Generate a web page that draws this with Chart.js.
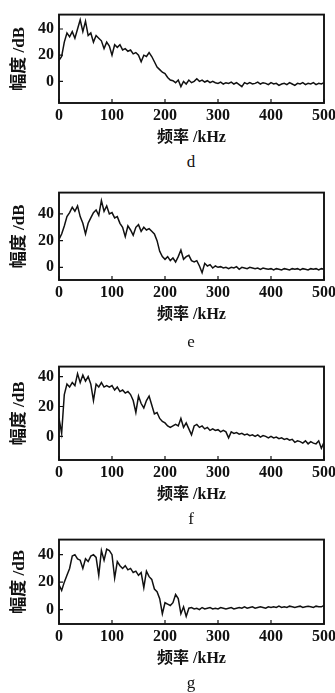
<!DOCTYPE html>
<html>
<head>
<meta charset="utf-8">
<script src="https://cdn.jsdelivr.net/npm/chart.js@4.4.0/dist/chart.umd.min.js"></script>
<style>
  html, body { margin: 0; padding: 0; background: #fff; }
  body { width: 335px; height: 693px; position: relative; overflow: hidden; }
  canvas { position: absolute; left: 0; }
  .cap { position: absolute; width: 40px; left: 171px; text-align: center;
         font: 17px "Liberation Serif", serif; color: #111; line-height: 20px; }
</style>
</head>
<body>
<canvas id="cd" width="345"></canvas>
<canvas id="ce" width="345"></canvas>
<canvas id="cf" width="345"></canvas>
<canvas id="cg" width="345"></canvas>
<div class="cap" id="lbl0"></div>
<div class="cap" id="lbl1"></div>
<div class="cap" id="lbl2"></div>
<div class="cap" id="lbl3"></div>
<script>
// frequency axis, kHz
const freq = [
  0, 5, 10, 15, 20, 25, 30, 35, 40, 45,
  50, 55, 60, 65, 70, 75, 80, 85, 90, 95,
  100, 105, 110, 115, 120, 125, 130, 135, 140, 145,
  150, 155, 160, 165, 170, 175, 180, 185, 190, 195,
  200, 205, 210, 215, 220, 225, 230, 235, 240, 245,
  250, 255, 260, 265, 270, 275, 280, 285, 290, 295,
  300, 305, 310, 315, 320, 325, 330, 335, 340, 345,
  350, 355, 360, 365, 370, 375, 380, 385, 390, 395,
  400, 405, 410, 415, 420, 425, 430, 435, 440, 445,
  450, 455, 460, 465, 470, 475, 480, 485, 490, 495,
  500
];

// amplitude, dB
const ampD = [
  16, 19, 30, 37, 34, 38, 33, 40, 47, 38,
  46, 35, 37, 30, 35, 33, 31, 25, 30, 27,
  20, 28, 26, 28, 24, 25, 23, 24, 21, 22,
  20, 15, 20, 19, 22, 19, 15, 11, 9, 7,
  6, 3, 1, 0.5, -1, 1, -4, 0, -2, 1,
  -1, 0, 2, 0, 1, -0.5, 0.5, -1, 0, -1,
  -1.5, -0.5, -2, -1, -1.5, -0.5, -2, -1, -2.5, -4,
  -1, -2, -1, -2, -1.5, -0.5, -2, -1, -1.5, -2.5,
  -1, -2, -1.5, -3, -2, -1.5, -2.5, -1, -2, -3,
  -1.5, -2, -1, -2.5, -1.5, -2, -1, -2.5, -1.5, -2,
  -1
];
const ampE = [
  21, 25, 31, 38, 41, 45, 42, 46, 38, 33,
  25, 33, 37, 41, 43, 39, 50, 42, 46, 40,
  41, 37, 38, 33, 30, 23, 31, 28, 24, 30,
  32, 27, 30, 28, 29, 27, 25, 20, 12, 8,
  6, 8, 5, 7, 4, 8, 13, 6, 8, 9,
  5, 4, 5, 1, -4, 3, 1, 2, -0.5, 1,
  0, 0.5, -0.5, 0, -1, 0, -0.5, 0.5, -1.5, 0,
  -0.5, -1, 0, -0.5, -1, -0.5, -1.5, -0.5, -1, -1.5,
  -1, -2, -1, -1.5, -2, -1, -1.5, -2, -1, -1.5,
  -1, -2, -1, -1.5, -2, -1, -1.5, -1, -2, -1,
  -1.5
];
const ampF = [
  12, 2, 28, 35, 33, 36, 34, 42, 36, 41,
  37, 40, 35, 24, 35, 33, 36, 33, 34, 33,
  34, 31, 33, 30, 31, 29, 30, 28, 24, 16,
  27, 22, 19, 24, 27, 21, 15, 16, 12, 10,
  9, 7, 6, 7, 8, 7, 12, 6, 9, 5,
  1, 7, 8, 6, 7, 5, 6, 4, 5, 4,
  4.5, 3, 4, 3, -1, 3, 2, 2.5, 1.5, 2,
  1, 1.5, 0.5, 1, 0, 1, -0.5, 0.5, 0, -1,
  0, -1, -0.5, -1.5, -1, -2, -1.5, -2.5, -2, -4,
  -3, -3.5, -4.5, -3, -5, -3.5, -4.5, -5, -3, -8,
  -4
];
const ampG = [
  18, 14, 20, 25, 30, 39, 40, 37, 36, 30,
  37, 35, 39, 40, 38, 25, 43, 36, 44, 43,
  40, 23, 35, 32, 30, 32, 29, 30, 27, 28,
  25, 27, 16, 28, 24, 22, 15, 13, 8, -3,
  5, 4, 3, 5, 11, 8, -3, 2, -5, 1,
  1.5, 0.5, 1, 0, 1.5, 0.5, 1, 1.5, 0.5, 1,
  0.5, 1.5, 1, 0.5, 1, 1.5, 0.5, 1, 1.5, 1,
  2, 1, 1.5, 2, 1, 1.5, 2, 1.5, 1, 2,
  1.5, 2, 1.5, 2.5, 1.5, 2, 1.5, 2.5, 2, 1.5,
  2, 2.5, 1.5, 2, 2.5, 2, 1.5, 2.5, 2, 2,
  3
];

const xTicks = [0, 100, 200, 300, 400, 500];
const yTicks = [0, 20, 40];
const captions = ['d', 'e', 'f', 'g'];
const xTitle = '频率 /kHz';
const yTitle = '幅度 /dB';

// frame top/bottom in page pixels, y range of each panel
const panels = [
  { id: 'cd', data: ampD, top: 5, bottom: 103, yMin: -16.5, yMax: 51, cap: 152 },
  { id: 'ce', data: ampE, top: 183, bottom: 280, yMin: -9.5, yMax: 56, cap: 332 },
  { id: 'cf', data: ampF, top: 357, bottom: 460, yMin: -15.8, yMax: 46.7, cap: 509 },
  { id: 'cg', data: ampG, top: 530, bottom: 624, yMin: -10.5, yMax: 51, cap: 673 }
];

const serif = '"Liberation Serif", "Noto Sans CJK SC", serif';

const framePlugin = {
  id: 'frame',
  afterDraw(chart) {
    const { ctx, chartArea: a, scales } = chart;
    ctx.save();
    ctx.strokeStyle = '#111';
    ctx.lineWidth = 1.9;
    ctx.strokeRect(a.left, a.top, a.right - a.left, a.bottom - a.top);
    ctx.lineWidth = 1.2;
    ctx.beginPath();
    yTicks.forEach(v => {
      const y = scales.y.getPixelForValue(v);
      ctx.moveTo(a.left, y); ctx.lineTo(a.left + 4, y);
    });
    xTicks.forEach(v => {
      const x = scales.x.getPixelForValue(v);
      ctx.moveTo(x, a.bottom); ctx.lineTo(x, a.bottom - 4);
    });
    ctx.stroke();
    ctx.restore();
  }
};

panels.forEach((p, i) => {
  const cv = document.getElementById(p.id);
  const h = (p.bottom - p.top) + 5 + 45;
  cv.height = h;
  cv.style.top = (p.top - 5) + 'px';

  const lbl = document.getElementById('lbl' + i);
  lbl.textContent = captions[i];
  lbl.style.top = p.cap + 'px';

  new Chart(cv.getContext('2d'), {
    type: 'line',
    data: {
      labels: freq,
      datasets: [{
        data: p.data,
        borderColor: '#111',
        borderWidth: 1.5,
        pointRadius: 0,
        tension: 0,
        fill: false
      }]
    },
    options: {
      responsive: false,
      animation: false,
      layout: { padding: { left: 0, right: 21, top: 5, bottom: 0 } },
      plugins: { legend: { display: false }, tooltip: { enabled: false } },
      scales: {
        x: {
          type: 'linear',
          min: 0,
          max: 500,
          grid: { display: false, drawTicks: false },
          border: { display: false },
          afterBuildTicks: s => { s.ticks = xTicks.map(v => ({ value: v })); },
          afterFit: s => { s.height = 45; },
          ticks: { color: '#111', padding: 3, maxRotation: 0,
                   font: { family: serif, size: 16, weight: 'bold' } },
          title: { display: true, text: xTitle, color: '#111',
                   padding: { top: 0, bottom: 1 },
                   font: { family: serif, size: 16, weight: 'bold' } }
        },
        y: {
          min: p.yMin,
          max: p.yMax,
          grid: { display: false, drawTicks: false },
          border: { display: false },
          afterBuildTicks: s => { s.ticks = yTicks.map(v => ({ value: v })); },
          afterFit: s => { s.width = 59; },
          ticks: { color: '#111', padding: 5,
                   font: { family: serif, size: 16, weight: 'bold' } },
          title: { display: true, text: yTitle, color: '#111',
                   padding: { top: 9, bottom: 0 },
                   font: { family: serif, size: 17, weight: 'bold' } }
        }
      }
    },
    plugins: [framePlugin]
  });
});
</script>
</body>
</html>
